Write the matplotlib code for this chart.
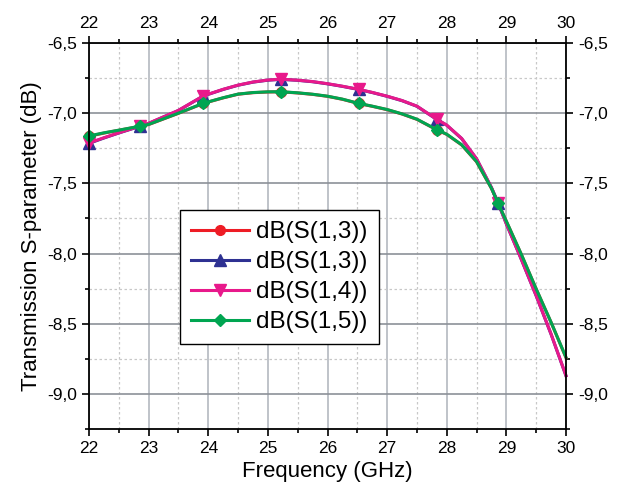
import numpy as np
import matplotlib
matplotlib.use('Agg')
import matplotlib.pyplot as plt
from matplotlib.ticker import MultipleLocator, FuncFormatter

plt.rcParams['font.family'] = ['Liberation Sans', 'DejaVu Sans']

# frequency points (GHz)
freq = [22.0, 22.25, 22.5, 22.85, 23.0, 23.5, 23.92, 24.25, 24.5, 24.75,
        25.0, 25.22, 25.5, 25.75, 26.0, 26.25, 26.52, 26.75, 27.0, 27.25,
        27.5, 27.83, 28.0, 28.25, 28.5, 28.75, 28.86, 29.0, 29.25, 29.5,
        29.75, 30.0]

s13_red = [-7.165, -7.142, -7.122, -7.094, -7.081, -7.001, -6.930, -6.891, -6.865, -6.854,
           -6.849, -6.848, -6.856, -6.866, -6.880, -6.901, -6.931, -6.951, -6.975, -7.006,
           -7.044, -7.118, -7.151, -7.226, -7.346, -7.536, -7.641, -7.771, -8.006, -8.253,
           -8.491, -8.742]
s13_blue = [-7.215, -7.177, -7.141, -7.094, -7.073, -6.981, -6.877, -6.831, -6.801, -6.779,
            -6.765, -6.759, -6.766, -6.776, -6.791, -6.809, -6.831, -6.853, -6.880, -6.911,
            -6.951, -7.044, -7.086, -7.181, -7.326, -7.531, -7.639, -7.789, -8.041, -8.301,
            -8.575, -8.871]
s14 = [-7.212, -7.175, -7.14, -7.093, -7.072, -6.98, -6.876, -6.83, -6.80, -6.778,
       -6.764, -6.758, -6.765, -6.775, -6.79, -6.808, -6.83, -6.852, -6.879, -6.91,
       -6.95, -7.043, -7.085, -7.18, -7.325, -7.53, -7.638, -7.788, -8.04, -8.30,
       -8.574, -8.87]
s15 = [-7.162, -7.14, -7.121, -7.093, -7.08, -7.0, -6.929, -6.89, -6.864, -6.853,
       -6.848, -6.847, -6.855, -6.865, -6.879, -6.9, -6.93, -6.95, -6.974, -7.005,
       -7.043, -7.117, -7.15, -7.225, -7.345, -7.535, -7.64, -7.77, -8.005, -8.252,
       -8.49, -8.74]

labels = ['dB(S(1,3))', 'dB(S(1,3))', 'dB(S(1,4))', 'dB(S(1,5))']
marker_idx = [0, 3, 6, 11, 16, 21, 26]

fig = plt.figure(figsize=(6.25, 4.93), dpi=100)
ax = fig.add_axes([0.1424, 0.1298, 0.7632, 0.783])

series = [(s13_red, '#ee1c25', 'o', 7), (s13_blue, '#2e3192', '^', 8),
          (s14, '#e8198b', 'v', 8), (s15, '#00a551', 'D', 6.5)]
for (vals, col, mk, ms), lab in zip(series, labels):
    ax.plot(freq, vals, color=col, lw=2.2, marker=mk, ms=ms,
            markevery=marker_idx, label=lab, clip_on=False)

ax.set_xlim(22, 30)
ax.set_ylim(-9.25, -6.5)
ax.xaxis.set_major_locator(MultipleLocator(1))
ax.xaxis.set_minor_locator(MultipleLocator(0.5))
ax.yaxis.set_major_locator(MultipleLocator(0.5))
ax.yaxis.set_minor_locator(MultipleLocator(0.25))
ax.yaxis.set_major_formatter(FuncFormatter(lambda v, p: ('%.1f' % v).replace('.', ',')))

ax.grid(which='major', axis='x', color='#b4b9c0', lw=1.2, ls='-')
ax.grid(which='major', axis='y', color='#8c9198', lw=1.2, ls='-')
ax.grid(which='minor', color='#c8c8c8', lw=0.9, ls=(0, (2, 2)))
ax.set_axisbelow(True)

ax.tick_params(which='both', direction='out', top=True, right=True,
               labeltop=True, labelright=True, labelsize=12.5, width=1.2)
ax.tick_params(which='major', length=5)
ax.tick_params(which='minor', length=3)
for sp in ax.spines.values():
    sp.set_linewidth(1.3)

ax.set_xlabel('Frequency (GHz)', fontsize=16, labelpad=4)
ax.set_ylabel('Transmission S-parameter (dB)', fontsize=16, labelpad=4)

leg = ax.legend(loc='upper left', bbox_to_anchor=(0.19, 0.567, 0.417, 0.0),
                mode='expand', borderaxespad=0,
                fontsize=17.5, handlelength=2.4, frameon=True, fancybox=False,
                edgecolor='black', framealpha=1, labelspacing=0.33,
                handletextpad=0.3, borderpad=0.45)
leg.get_frame().set_linewidth(1.0)

fig.savefig('out.png', dpi=100)
